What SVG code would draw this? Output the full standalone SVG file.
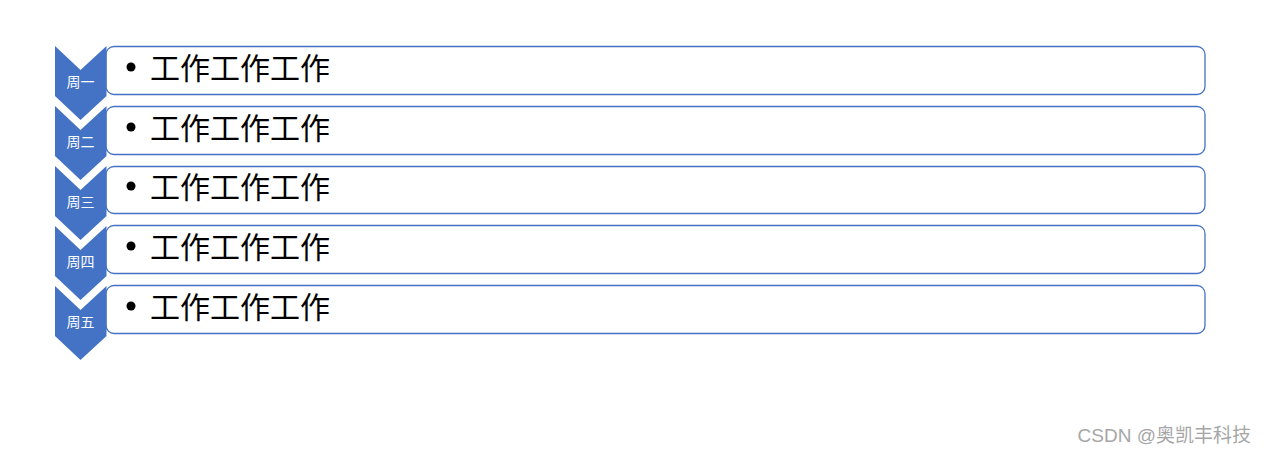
<svg xmlns="http://www.w3.org/2000/svg" width="1267" height="454" viewBox="0 0 1267 454">
<defs>
<style>
.chev{fill:#4472C4}
.box{fill:#ffffff;stroke:#4472C4;stroke-width:1.3}
.lbl{font-family:"Noto Sans CJK SC","Noto Sans",sans-serif;font-size:14px;fill:#ffffff;text-anchor:middle}
.txt{font-family:"Noto Sans CJK SC","Noto Sans",sans-serif;font-size:30px;fill:#000000}
.wm{font-family:"Liberation Sans","Noto Sans CJK SC",sans-serif;font-size:19px;fill:#a6a6a6}
</style>
<path id="chevShape" d="M0,0 L25.5,24 L51.5,0 L51.5,50 L25.5,74 L0,50 Z"/>
</defs>
<g id="row1">
<rect class="box" x="106" y="46.5" width="1099" height="48" rx="8"/>
<use href="#chevShape" class="chev" x="55" y="46"/>
<text class="lbl" x="80.5" y="87">周一</text>
<circle cx="131" cy="67" r="4.5" fill="#000"/>
<text class="txt" x="150" y="79">工作工作工作</text>
</g>
<g id="row2">
<rect class="box" x="106" y="106.5" width="1099" height="48" rx="8"/>
<use href="#chevShape" class="chev" x="55" y="106"/>
<text class="lbl" x="80.5" y="147">周二</text>
<circle cx="131" cy="127" r="4.5" fill="#000"/>
<text class="txt" x="150" y="139">工作工作工作</text>
</g>
<g id="row3">
<rect class="box" x="106" y="166.5" width="1099" height="47" rx="8"/>
<use href="#chevShape" class="chev" x="55" y="166"/>
<text class="lbl" x="80.5" y="207">周三</text>
<circle cx="131" cy="186" r="4.5" fill="#000"/>
<text class="txt" x="150" y="198">工作工作工作</text>
</g>
<g id="row4">
<rect class="box" x="106" y="225.5" width="1099" height="48" rx="8"/>
<use href="#chevShape" class="chev" x="55" y="226"/>
<text class="lbl" x="80.5" y="267">周四</text>
<circle cx="131" cy="246" r="4.5" fill="#000"/>
<text class="txt" x="150" y="258">工作工作工作</text>
</g>
<g id="row5">
<rect class="box" x="106" y="285.5" width="1099" height="48" rx="8"/>
<use href="#chevShape" class="chev" x="55" y="286"/>
<text class="lbl" x="80.5" y="327">周五</text>
<circle cx="131" cy="306" r="4.5" fill="#000"/>
<text class="txt" x="150" y="318">工作工作工作</text>
</g>
<g id="connectors"/>
<text class="wm" x="1251" y="442" text-anchor="end">CSDN @奥凯丰科技</text>
</svg>
